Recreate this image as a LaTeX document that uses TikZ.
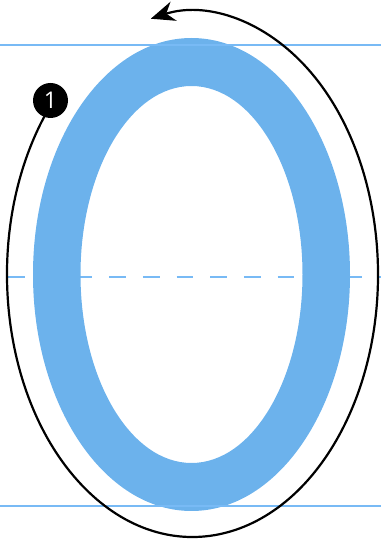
\documentclass[tikz,border=0pt]{standalone}
\usepackage{fontspec}
\newfontfamily\numfont{Open Sans}
\usetikzlibrary{arrows.meta}

\definecolor{ringblue}{RGB}{108,178,236}
\definecolor{guideblue}{RGB}{120,186,245}

\begin{document}
\begin{tikzpicture}[x=1pt, y=1pt, >={Stealth[length=24pt,width=20pt]},
  guide/.style={guideblue, line width=2.5pt},
  stroke/.style={black, line width=2.2pt},
  numdot/.style={circle, fill=black, text=white, inner sep=0pt, minimum size=35pt, font=\numfont\fontsize{23}{23}\selectfont}]
\useasboundingbox (0,0) rectangle (381,547);
\coordinate (centre) at (192.5,272.5);
\coordinate (ringc) at (191.5,272.5);
\coordinate (midL) at (8,270);
\coordinate (midR) at (381,270);
\draw[guide, line width=2.2pt, dash pattern=on 16.8pt off 16.9pt] (midL) -- (midR);
\fill[ringblue, even odd rule] (ringc) ellipse[x radius=158.5pt, y radius=236.5pt]
  (ringc) ellipse[x radius=111pt, y radius=188.5pt];
\draw[guide] (0,502) -- (381,502);
\draw[guide] (0,41) -- (381,41);
\coordinate (start) at ([shift={(143:185.5pt and 262.5pt)}]centre);
\draw[stroke, ->] (start) arc[start angle=143, end angle=463, x radius=185.5pt, y radius=262.5pt];
\node[numdot] (one) at (50.5,446.5) {1};
\end{tikzpicture}
\end{document}
